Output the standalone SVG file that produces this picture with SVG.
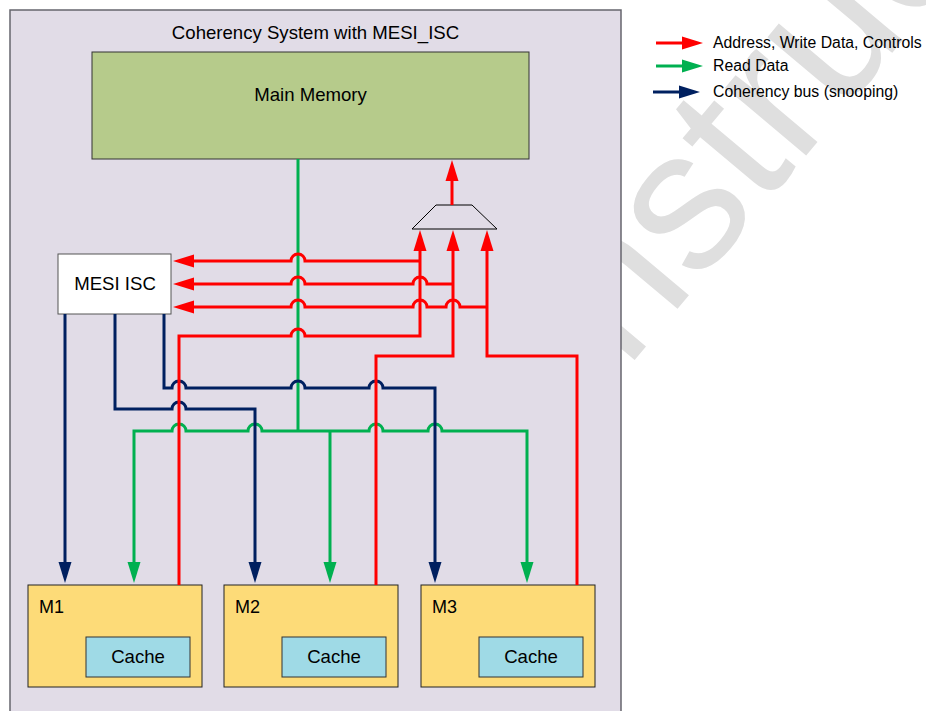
<svg xmlns="http://www.w3.org/2000/svg" width="926" height="711" viewBox="0 0 926 711">
  <style>
    text { font-family: "Liberation Sans", Arial, sans-serif; fill: #000; }
    .lbl { font-size: 18.6px; }
    .tag { font-size: 18px; }
    .leg { font-size: 15.8px; }
    .wire { fill: none; stroke-width: 3; stroke-linejoin: miter; }
    .red { stroke: #ff0000; }
    .grn { stroke: #00b050; }
    .blu { stroke: #002060; }
    .unit { fill: #fddb78; stroke: #222; stroke-width: 1; }
    .cache { fill: #9fdae6; stroke: #333; stroke-width: 1; }
    .mark { font-family: "Liberation Sans", Arial, sans-serif; font-size: 200px; fill: #dfdfdf; }
  </style>
  <defs>
    <marker id="aR" markerUnits="userSpaceOnUse" markerWidth="21" markerHeight="14" viewBox="0 -7 21 14" refX="1" refY="0" orient="auto-start-reverse">
      <path d="M0,-6.5 L21,0 L0,6.5 z" fill="#ff0000"/>
    </marker>
    <marker id="aG" markerUnits="userSpaceOnUse" markerWidth="21" markerHeight="14" viewBox="0 -7 21 14" refX="1" refY="0" orient="auto-start-reverse">
      <path d="M0,-6.5 L21,0 L0,6.5 z" fill="#00b050"/>
    </marker>
    <marker id="aB" markerUnits="userSpaceOnUse" markerWidth="21" markerHeight="14" viewBox="0 -7 21 14" refX="1" refY="0" orient="auto-start-reverse">
      <path d="M0,-6.5 L21,0 L0,6.5 z" fill="#002060"/>
    </marker>
  </defs>

  <rect width="926" height="711" fill="#ffffff"/>

  <!-- background watermark -->
  <text class="mark" transform="translate(590,413) rotate(-50)">Instructor</text>

  <!-- system frame -->
  <g id="system">
    <rect x="10" y="10" width="611" height="720" fill="#e1dce7" stroke="#66656d" stroke-width="1.5"/>
    <text class="lbl" x="315.5" y="39" text-anchor="middle">Coherency System with MESI_ISC</text>
  </g>

  <g id="main-memory">
    <rect x="92" y="52" width="437" height="107" fill="#b6cb8b" stroke="#333" stroke-width="1"/>
    <text class="lbl" x="310.5" y="101" text-anchor="middle">Main Memory</text>
  </g>

  <g id="mux">
    <polygon points="412,229 436,205 472,205 497,229" fill="none" stroke="#000" stroke-width="1"/>
  </g>

  <g id="mesi-isc">
    <rect x="58" y="254" width="113" height="60" fill="#ffffff" stroke="#555" stroke-width="1"/>
    <text class="lbl" x="115" y="290" text-anchor="middle">MESI ISC</text>
  </g>

  <g id="m1">
    <rect class="unit" x="28" y="585" width="174" height="102"/>
    <text class="tag" x="39" y="613">M1</text>
    <rect class="cache" x="86" y="637" width="104" height="40"/>
    <text class="lbl" x="138" y="663" text-anchor="middle">Cache</text>
  </g>
  <g id="m2">
    <rect class="unit" x="224" y="585" width="174" height="102"/>
    <text class="tag" x="235" y="613">M2</text>
    <rect class="cache" x="282" y="637" width="104" height="40"/>
    <text class="lbl" x="334" y="663" text-anchor="middle">Cache</text>
  </g>
  <g id="m3">
    <rect class="unit" x="421" y="585" width="174" height="102"/>
    <text class="tag" x="432" y="613">M3</text>
    <rect class="cache" x="479" y="637" width="104" height="40"/>
    <text class="lbl" x="531" y="663" text-anchor="middle">Cache</text>
  </g>

  <g id="connectors">
    <!-- read data: memory to caches -->
    <path class="wire grn" d="M298,159 V431"/>
    <path class="wire grn" marker-start="url(#aG)" marker-end="url(#aG)" d="M134,563 V431 H172 a7,7 0 0 1 14,0 H248 a7,7 0 0 1 14,0 H369 a7,7 0 0 1 14,0 H428 a7,7 0 0 1 14,0 H527 V563"/>
    <path class="wire grn" marker-end="url(#aG)" d="M330,431 V563"/>

    <!-- coherency bus: MESI ISC to masters -->
    <path class="wire blu" marker-end="url(#aB)" d="M65,314 V563"/>
    <path class="wire blu" marker-end="url(#aB)" d="M115,314 V409 H172 a7,7 0 0 1 14,0 H255 V563"/>
    <path class="wire blu" marker-end="url(#aB)" d="M164,314 V388 H172 a7,7 0 0 1 14,0 H291 a7,7 0 0 1 14,0 H369 a7,7 0 0 1 14,0 H435 V563"/>

    <!-- requests: masters to arbiter mux -->
    <path class="wire red" marker-end="url(#aR)" d="M179,585 V336 H291 a7,7 0 0 1 14,0 H420 V250"/>
    <path class="wire red" marker-end="url(#aR)" d="M376,585 V356 H453 V250"/>
    <path class="wire red" marker-end="url(#aR)" d="M577,585 V356 H487 V250"/>

    <!-- requests tapped to MESI ISC -->
    <path class="wire red" marker-end="url(#aR)" d="M420,261 H305 a7,7 0 0 0 -14,0 H193"/>
    <path class="wire red" marker-end="url(#aR)" d="M453,284 H427 a7,7 0 0 0 -14,0 H305 a7,7 0 0 0 -14,0 H193"/>
    <path class="wire red" marker-end="url(#aR)" d="M487,307 H460 a7,7 0 0 0 -14,0 H427 a7,7 0 0 0 -14,0 H305 a7,7 0 0 0 -14,0 H193"/>

    <!-- mux output to memory -->
    <path class="wire red" marker-end="url(#aR)" d="M452,205 V180"/>
  </g>

  <g id="legend">
    <path class="wire red" marker-end="url(#aR)" d="M656,43 H683"/>
    <text class="leg" x="713" y="48">Address, Write Data, Controls</text>
    <path class="wire grn" marker-end="url(#aG)" d="M656,66 H683"/>
    <text class="leg" x="713" y="71">Read Data</text>
    <path class="wire blu" marker-end="url(#aB)" d="M653,92 H680"/>
    <text class="leg" x="713" y="97">Coherency bus (snooping)</text>
  </g>
</svg>
